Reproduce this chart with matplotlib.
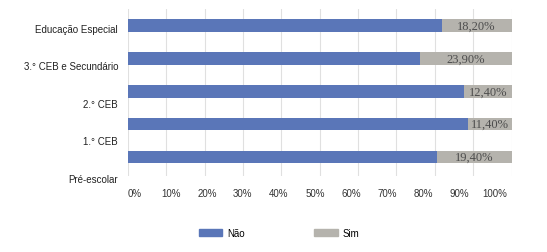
import matplotlib.pyplot as plt
import matplotlib.transforms as mtransforms
from matplotlib.patches import Patch

# Share of answers per school level (%)
niveis = ['Pré-escolar', '1.° CEB', '2.° CEB', '3.° CEB e Secundário', 'Educação Especial']
sim = [19.4, 11.4, 12.4, 23.9, 18.2]
nao = [100 - s for s in sim]
ticks_pct = list(range(0, 101, 10))

cor_nao = '#5a76b8'
cor_sim = '#b5b3ad'

fig = plt.figure(figsize=(5.47, 2.53), dpi=100)
ax = fig.add_axes([128 / 547, 1 - 177 / 253, 383.5 / 547, 167 / 253])

pos = list(range(len(niveis)))
ax.barh(pos, nao, height=0.38, color=cor_nao)
ax.barh(pos, sim, left=nao, height=0.38, color=cor_sim)

for p, n, s in zip(pos, nao, sim):
    ax.text(n + s / 2, p, f'{s:.2f}%'.replace('.', ','), ha='center', va='center',
            fontsize=9, family='Liberation Serif', color='#4d4d4d')

ax.set_xlim(0, 100)
ax.set_ylim(-0.58, 4.51)

# gridlines on the real scale, labels spread a bit narrower like the source
ax.set_xticks(ticks_pct, minor=True)
ax.set_xticks([1.8 + 0.939 * v for v in ticks_pct])
ax.set_xticklabels([f'{v}%' for v in ticks_pct], fontsize=7,
                   family='Liberation Sans', color='#333333')
ax.set_yticks([])
ax.tick_params(which='both', length=0)
ax.tick_params(axis='x', pad=9)
ax.grid(axis='x', which='minor', color='#e0e0e0', linewidth=0.8)
ax.set_axisbelow(True)
for s in ax.spines.values():
    s.set_visible(False)

# category labels sit a little below their bars and spread wider
trans = mtransforms.blended_transform_factory(ax.transAxes, ax.transData)
for p, nome in zip(pos, niveis):
    ax.text(-0.026, p * 1.143 - 0.67, nome, transform=trans, ha='right', va='center',
            fontsize=7, family='Liberation Sans', color='#222222', clip_on=False)

handles = [Patch(color=cor_nao, label='Não'), Patch(color=cor_sim, label='Sim')]
fig.legend(handles=handles, loc='center', bbox_to_anchor=(0.51, 0.075), ncol=2,
           frameon=False, prop={'family': 'Liberation Sans', 'size': 7},
           handlelength=2.4, handleheight=0.7, columnspacing=7.2, handletextpad=0.45)

fig.savefig('out.png', dpi=100)
